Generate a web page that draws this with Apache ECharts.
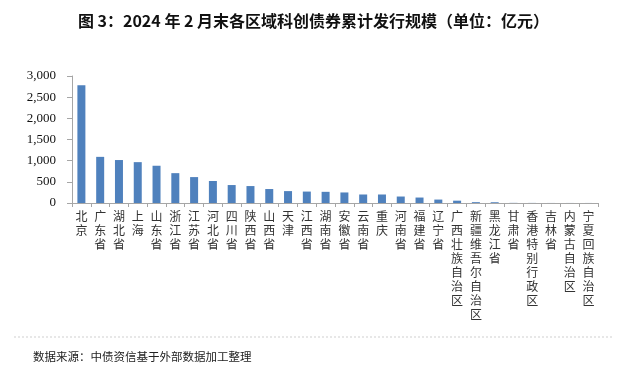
<!DOCTYPE html>
<html>
<head>
<meta charset="utf-8">
<script src="https://cdn.jsdelivr.net/npm/echarts@6/dist/echarts.min.js"></script>
<style>
html,body{margin:0;padding:0;background:#fff;}
#c{width:627px;height:377px;}
</style>
</head>
<body>
<div id="c"></div>
<script>
const titleText = '图 3：2024 年 2 月末各区域科创债券累计发行规模（单位：亿元）';
const sourceText = '数据来源：中债资信基于外部数据加工整理';
const categories = ['北京','广东省','湖北省','上海','山东省','浙江省','江苏省','河北省','四川省','陕西省','山西省','天津','江西省','湖南省','安徽省','云南省','重庆','河南省','福建省','辽宁省','广西壮族自治区','新疆维吾尔自治区','黑龙江省','甘肃省','香港特别行政区','吉林省','内蒙古自治区','宁夏回族自治区'];
const values = [2780,1090,1015,965,880,705,612,520,424,400,330,281,270,264,249,201,201,153,129,81,55,20,18,3,2,1,1,1];
const yTicks = [0,500,1000,1500,2000,2500,3000];

const chart = echarts.init(document.getElementById('c'));
chart.setOption({
  animation:false,
  backgroundColor:'#fff',
  title:{
    text:titleText, left:'center', top:8,
    textStyle:{fontSize:16,fontWeight:'bold',color:'#111',fontFamily:'Noto Sans CJK SC'}
  },
  grid:{left:72,right:29,top:76,bottom:174,containLabel:false},
  xAxis:{
    type:'category', data:categories,
    axisLine:{lineStyle:{color:'#a6a6a6',width:1}},
    axisTick:{show:true,length:4,lineStyle:{color:'#a6a6a6'}},
    axisLabel:{
      interval:0, rotate:0, margin:6,
      fontSize:12, lineHeight:14, color:'#333',
      fontFamily:'Noto Sans CJK SC',
      verticalAlign:'top',
      formatter:v=>v.split('').join('\n')
    }
  },
  yAxis:{
    type:'value', min:yTicks[0], max:yTicks[yTicks.length-1], interval:500,
    splitLine:{show:false},
    axisLine:{show:true,lineStyle:{color:'#a6a6a6'}},
    axisTick:{show:true,length:5,inside:false,lineStyle:{color:'#a6a6a6'}},
    axisLabel:{
      fontSize:13, color:'#111', fontFamily:'Liberation Serif', margin:16,
      formatter:v=>v.toLocaleString('en-US')
    }
  },
  series:[{
    type:'bar', data:values, barWidth:8,
    itemStyle:{color:'#4F81BD'}
  }],
  graphic:[
    {type:'line',shape:{x1:14,y1:337,x2:612,y2:337},style:{stroke:'#d0d0d0',lineWidth:1,lineDash:[2,2]}},
    {type:'text',left:33,top:351,style:{text:sourceText,fontSize:11.5,fill:'#222',fontFamily:'Noto Sans CJK SC'}}
  ]
});
</script>
</body>
</html>
